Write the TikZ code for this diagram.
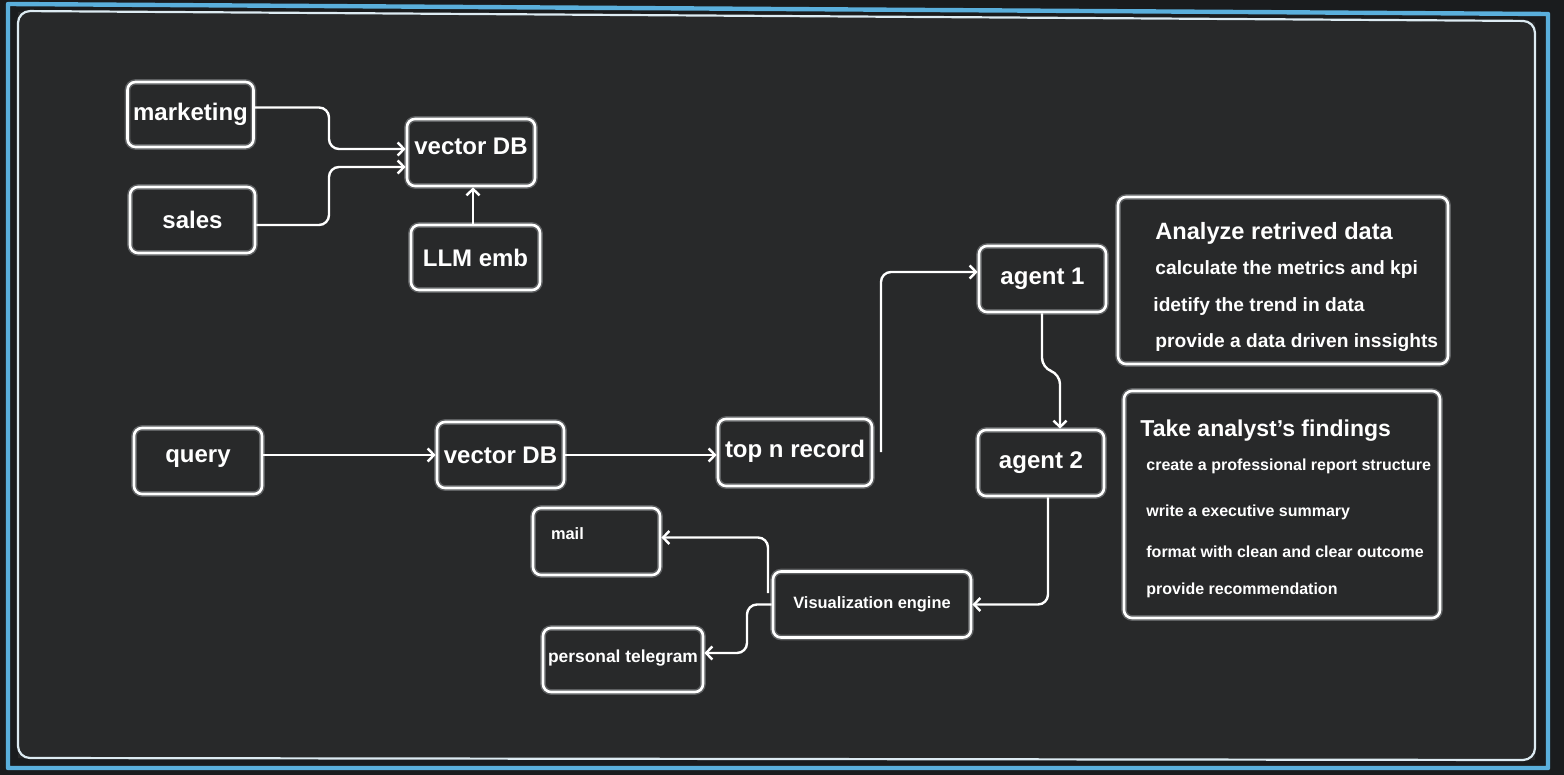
\documentclass[tikz,border=0pt]{standalone}
\usepackage{fontspec}
\setmainfont{Liberation Sans}
\usetikzlibrary{arrows.meta}
\definecolor{bgc}{HTML}{28292A}
\definecolor{outc}{HTML}{1A1C1E}
\definecolor{scr}{HTML}{5AAFDC}
\definecolor{framec}{HTML}{DDEBF2}
\definecolor{glowc}{HTML}{5E6062}
\tikzset{
  box/.style={draw=white, line width=1.3pt, rounded corners=4pt, text=white,
    font=\bfseries\fontsize{12}{14}\selectfont, inner sep=0pt,
    preaction={draw=glowc, line width=2.8pt}},
  panel/.style={draw=white, line width=1.3pt, rounded corners=4pt, inner sep=0pt,
    preaction={draw=glowc, line width=2.8pt}},
  htitle/.style={text=white, font=\bfseries\fontsize{11.8}{14}\selectfont, inner sep=0pt, anchor=west},
  pline/.style={text=white, font=\bfseries\fontsize{9.6}{12}\selectfont, inner sep=0pt, anchor=west},
  sline/.style={text=white, font=\bfseries\fontsize{8}{10}\selectfont, inner sep=0pt, anchor=west},
  conn/.style={draw=white, line width=1.2pt, rounded corners=5pt,
    -{Straight Barb[length=3.2pt,width=6.5pt]}},
}
\begin{document}
\begin{tikzpicture}[x=0.5pt,y=-0.5pt]
\useasboundingbox (0,0) rectangle (1564,775);
\fill[outc] (0,0) rectangle (1564,775);
% screen frame
\fill[bgc] (18,12) -- (1535,22) -- (1535,760) -- (18,758) -- cycle;
\draw[scr, line width=2.2pt, line join=round] (8,4) -- (1548,14) -- (1548,768) -- (8,768) -- cycle;
\draw[framec, line width=1.1pt, rounded corners=6pt] (18,11) -- (1535,21) -- (1535,760) -- (18,758) -- cycle;

% nodes
\node[box, minimum width=63pt, minimum height=32.5pt] (mk) at (190.5,114.5) {marketing};
\node[box, minimum width=62.5pt, minimum height=33pt] (sl) at (192.5,220) {sales};
\node[box, minimum width=64pt, minimum height=33.5pt, text depth=6pt] (vdb1) at (471,152.5) {vector DB};
\node[box, minimum width=64.5pt, minimum height=32.5pt] (llm) at (475.5,257.5) {LLM emb};
\node[box, minimum width=64pt, minimum height=33pt, text depth=5pt] (q) at (198,461) {query};
\node[box, minimum width=63.5pt, minimum height=33pt] (vdb2) at (500.5,455) {vector DB};
\node[box, minimum width=77pt, minimum height=33.5pt, text depth=4pt] (topn) at (795,452.5) {top n record};
\node[box, minimum width=63.5pt, minimum height=33pt] (a1) at (1042.5,279) {agent 1};
\node[box, minimum width=63pt, minimum height=33pt] (a2) at (1041,463) {agent 2};
\node[box, minimum width=99pt, minimum height=33pt, font=\bfseries\fontsize{8.2}{10}\selectfont] (vis) at (872,604.5) {Visualization engine};
\node[box, minimum width=63.5pt, minimum height=33.5pt, font=\bfseries\fontsize{8.2}{10}\selectfont,
  align=left, text width=45.5pt, inner xsep=9pt, text depth=8pt] (mail) at (596.5,541.5) {mail};
\node[box, minimum width=80pt, minimum height=32pt, font=\bfseries\fontsize{8.7}{10}\selectfont, text depth=4pt] (tg) at (623,660) {personal telegram};

% panels
\node[panel, minimum width=165pt, minimum height=83.5pt] (p1) at (1283,280.5) {};
\node[htitle] (p1a) at (1155,233) {Analyze retrived data};
\node[pline] (p1b) at (1155,270) {calculate the metrics and kpi};
\node[pline] (p1c) at (1153,307) {idetify the trend in data};
\node[pline] (p1d) at (1155,343) {provide a data driven inssights};

\node[panel, minimum width=158pt, minimum height=113.5pt] (p2) at (1282,504.5) {};
\node[htitle, font=\bfseries\fontsize{11.5}{14}\selectfont] (p2a) at (1140,431) {Take analyst's findings};
\node[sline] (p2b) at (1146,466) {create a professional report structure};
\node[sline] (p2c) at (1146,512) {write a executive summary};
\node[sline] (p2d) at (1146,552) {format with clean and clear outcome};
\node[sline] (p2e) at (1146,590) {provide recommendation};

% connectors
\draw[conn] ([yshift=3.5pt]mk.east) -| (329,149) -- (vdb1.west |- 0,149);
\draw[conn] ([yshift=-2.5pt]sl.east) -| (329,167) -- (vdb1.west |- 0,167);
\draw[conn] (llm.north -| 473,0) -- (vdb1.south -| 473,0);
\draw[conn] (q.east |- vdb2.west) -- (vdb2.west);
\draw[conn] (vdb2.east) -- (topn.west |- vdb2.east);
\draw[conn] (881,452) |- ([yshift=3.5pt]a1.west);
\draw[conn] (a1.south -| 1042,0) -- (1042,368) -- (1060,374) -- (a2.north -| 1060,0);
\draw[conn] ([xshift=3.5pt]a2.south) |- (vis.east);
\draw[conn] (768,593) |- ([yshift=2pt]mail.east);
\draw[conn] (vis.west) -| (747,653) -- (tg.east |- 0,653);
\end{tikzpicture}
\end{document}
